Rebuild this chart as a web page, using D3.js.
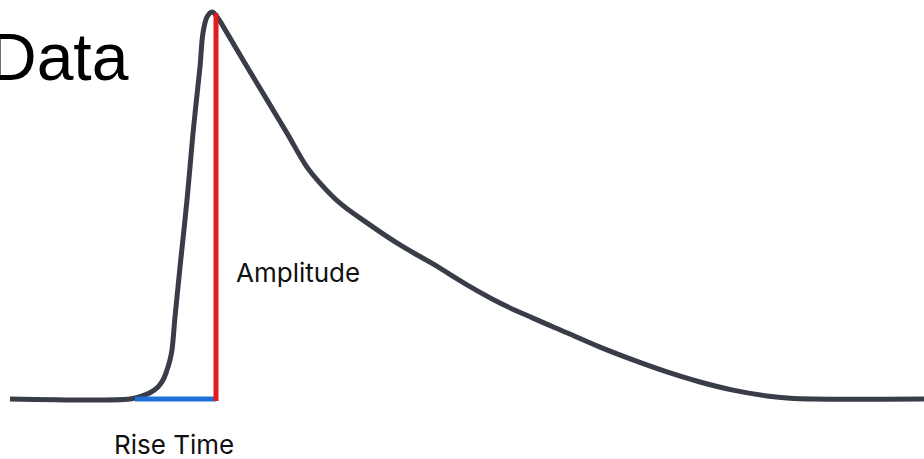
<!DOCTYPE html>
<html>
<head>
<meta charset="utf-8">
<script src="https://cdn.jsdelivr.net/npm/d3@7"></script>
<style>
  html, body { margin: 0; padding: 0; background: #ffffff; }
  svg { display: block; }
</style>
</head>
<body>
<svg id="chart" width="924" height="459"></svg>
<script>
// ---- data (time in arbitrary units, amplitude in % of peak) ----
const title = "Data";
const timeValues = [0, 120, 130, 140, 148, 153, 157, 160, 162, 165, 170, 177, 183, 190, 193, 197, 202, 208, 217, 233, 257, 277, 297, 310, 330, 357, 390, 423, 457, 490, 523, 557, 590, 623, 657, 690, 723, 757, 780, 803, 914];
const amplitudeValues = [0, 0, 0.6, 1.6, 3.1, 4.9, 7.5, 10.1, 12.7, 21.2, 34.1, 51.4, 68.7, 85.8, 94.6, 98.7, 100, 98.4, 94.6, 87.6, 77.3, 68.7, 59.9, 55.8, 50.6, 45.5, 39.8, 34.9, 29.5, 24.8, 20.9, 17.1, 13.4, 10.1, 7.0, 4.4, 2.3, 0.8, 0.2, 0, 0];
const riseStart = 125;
const peakTime = 206;
const peakAmplitude = 99.7;
const amplitudeLabel = "Amplitude";
const riseLabel = "Rise Time";

const svg = d3.select("#chart");
const x = d3.scaleLinear().domain([0, 914]).range([10, 924]);
const y = d3.scaleLinear().domain([0, 100]).range([399, 12]);

const pts = timeValues.map((t, i) => [t, amplitudeValues[i]]);
const line = d3.line().x(d => x(d[0])).y(d => y(d[1])).curve(d3.curveCatmullRom.alpha(0.5));

svg.append("path")
  .datum(pts)
  .attr("d", line)
  .attr("fill", "none")
  .attr("stroke", "#383d47")
  .attr("stroke-width", 5)
  .attr("stroke-linejoin", "round");

// rise time segment
svg.append("line")
  .attr("x1", x(riseStart)).attr("x2", x(peakTime))
  .attr("y1", y(0)).attr("y2", y(0))
  .attr("stroke", "#1f6fd8")
  .attr("stroke-width", 5);

// amplitude segment
svg.append("line")
  .attr("x1", x(peakTime)).attr("x2", x(peakTime))
  .attr("y1", y(0) + 2).attr("y2", y(peakAmplitude))
  .attr("stroke", "#e11b1e")
  .attr("stroke-width", 5);

svg.append("text")
  .attr("x", -11).attr("y", 80)
  .attr("font-family", "'Liberation Sans', Arial, sans-serif")
  .attr("font-size", 66)
  .attr("fill", "#000")
  .text(title);

svg.append("text")
  .attr("x", 236).attr("y", 281.5)
  .attr("font-family", "Inter, sans-serif")
  .attr("font-size", 26)
  .attr("fill", "#111")
  .text(amplitudeLabel);

svg.append("text")
  .attr("x", 114).attr("y", 454)
  .attr("font-family", "Inter, sans-serif")
  .attr("font-size", 26)
  .attr("fill", "#111")
  .text(riseLabel);
</script>
</body>
</html>
